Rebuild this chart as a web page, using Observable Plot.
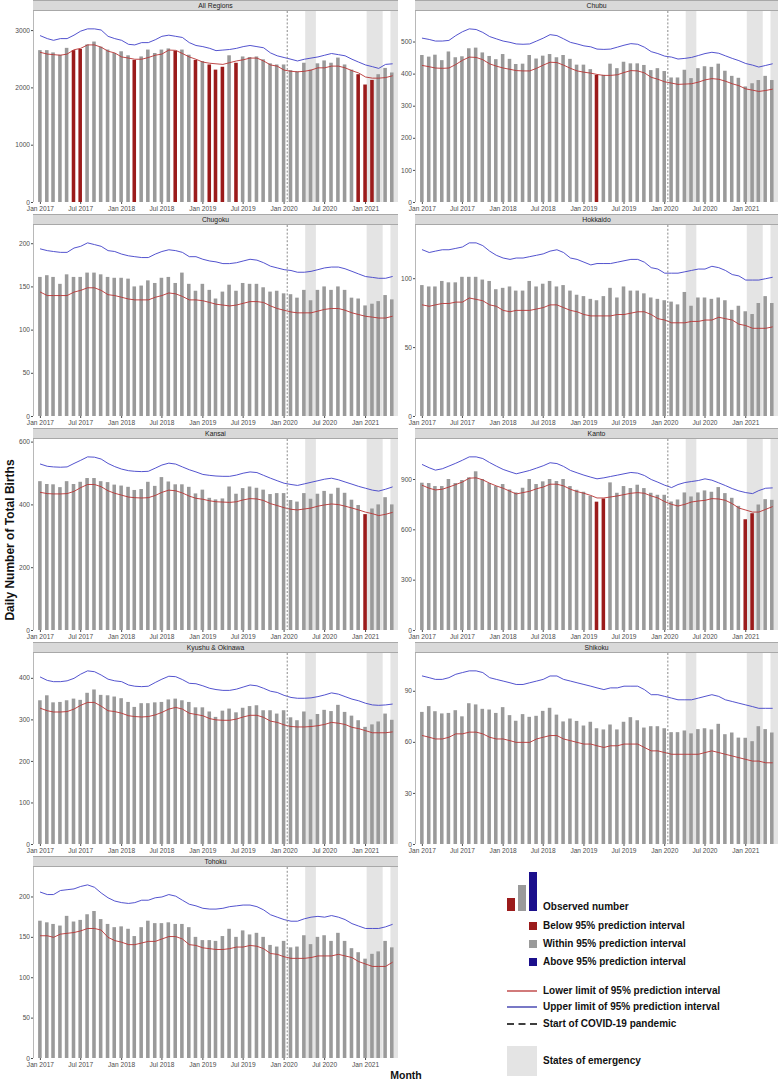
<!DOCTYPE html>
<html><head><meta charset="utf-8">
<script src="https://cdn.jsdelivr.net/npm/d3@7"></script>
<script src="https://cdn.jsdelivr.net/npm/@observablehq/plot@0.6"></script>
<style>
body{margin:0;background:#fff;font-family:"Liberation Sans",Arial,Helvetica,sans-serif;}
#root{position:relative;width:781px;height:1080px;overflow:hidden;background:#fff}
.abs{position:absolute}
.strip{position:absolute;background:#d9d9d9;border-top:0.8px solid #a8a8a8;border-bottom:0.8px solid #a8a8a8;box-sizing:border-box;font-size:6.8px;text-align:center;line-height:10px;color:#1a1a1a}
.axisline{position:absolute;width:0.7px;background:#b8b8b8}
.lg{position:absolute;font-size:10px;font-weight:bold;color:#111;line-height:12px;white-space:nowrap}
</style>
</head><body><div id="root"></div>
<script>
// ---------- data ----------
const monthStart = "2017-01-01", monthEnd = "2021-06-01";
const emergencyStart = ["2020-04-07", "2021-01-08", "2021-04-25"];
const emergencyEnd   = ["2020-05-25", "2021-03-21", "2021-06-20"];
const covidStart = "2020-01-15";
const xTickDates = ["2017-01-01","2017-07-01","2018-01-01","2018-07-01","2019-01-01","2019-07-01","2020-01-01","2020-07-01","2021-01-01"];
const regionNames = ["All Regions","Chubu","Chugoku","Hokkaido","Kansai","Kanto","Kyushu & Okinawa","Shikoku","Tohoku"];

const allObs = [2650,2650,2610,2570,2690,2650,2670,2750,2800,2710,2660,2600, 2630,2560,2480,2540,2660,2600,2660,2680,2640,2660,2570,2480, 2460,2400,2310,2360,2560,2430,2540,2530,2540,2490,2420,2400, 2400,2300,2280,2430,2310,2420,2470,2430,2520,2400,2310,2230, 2050,2130,2230,2340,2260];
const allLow = [2620,2590,2580,2570,2590,2665,2690,2750,2750,2710,2640,2610, 2540,2520,2500,2500,2530,2570,2590,2660,2655,2600,2540,2500, 2450,2430,2420,2410,2440,2470,2490,2520,2520,2470,2400,2380, 2310,2290,2280,2290,2310,2350,2350,2380,2380,2350,2300,2260, 2190,2170,2170,2180,2210];
const allUp  = [2910,2860,2830,2860,2860,2920,2990,3030,3030,3010,2900,2860, 2830,2760,2750,2790,2790,2840,2900,2920,2900,2880,2790,2740, 2720,2690,2650,2660,2670,2690,2720,2740,2720,2700,2610,2560, 2530,2500,2470,2500,2520,2540,2570,2600,2580,2560,2500,2450, 2400,2370,2340,2410,2420];
const allBelow = ["2017-06","2017-07","2018-03","2018-09","2018-12","2019-02","2019-03","2019-04","2019-06","2020-12","2021-01","2021-02"];
const allTicks = [0,1000,2000,3000];

const chubuObs = [458,453,459,442,469,451,454,479,481,466,455,445, 461,446,430,431,458,447,456,461,451,458,446,428, 428,414,396,396,431,417,437,432,432,427,411,417, 408,388,388,412,386,417,423,421,431,409,393,387, 360,370,380,393,380];
const chubuLow = [427,423,419,418,419,430,443,453,452,445,432,425, 419,415,411,410,410,418,428,437,436,428,418,410, 406,403,399,396,396,398,405,411,410,404,390,384, 376,372,368,369,370,375,382,386,384,378,370,364, 354,350,346,349,353];
const chubuUp  = [512,508,503,503,505,520,532,541,539,530,517,510, 503,499,494,493,494,503,512,523,520,510,499,494, 488,485,478,477,478,484,490,495,493,484,470,464, 456,453,447,449,452,458,464,468,465,457,449,442, 433,428,422,427,432];
const chubuBelow = ["2019-03"];
const chubuTicks = [0,100,200,300,400,500];

const chugokuObs = [161,163,161,153,164,161,161,166,166,164,161,160, 160,159,150,151,157,154,160,161,154,166,153,145, 153,146,136,144,152,145,154,153,153,149,144,145, 142,141,137,146,134,146,150,146,150,146,137,136, 128,130,133,140,135];
const chugokuLow = [144,140,140,140,140,144,146,149,149,146,141,140, 138,136,135,135,135,138,140,143,142,139,135,135, 134,132,130,129,128,129,131,133,133,132,128,125, 123,121,120,120,120,122,124,125,125,123,120,118, 116,115,114,114,116];
const chugokuUp  = [194,192,191,190,190,195,197,201,199,197,192,191, 188,186,185,184,184,188,191,193,192,190,185,185, 182,180,179,177,177,178,180,182,181,178,174,172, 170,169,167,167,168,170,172,173,173,171,168,165, 162,161,160,160,162];
const chugokuBelow = [];
const chugokuTicks = [0,50,100,150,200];

const hokkaidoObs = [95,94,94,98,97,97,101,101,101,99,98,92, 93,94,91,91,98,94,96,98,94,95,91,88, 87,85,84,87,93,86,94,91,91,89,86,85, 84,83,81,90,80,86,86,85,86,84,77,80, 76,74,82,87,82];
const hokkaidoLow = [81,80,81,82,82,83,83,86,85,84,81,80, 77,76,77,77,77,78,79,81,81,79,77,76, 74,73,73,73,73,74,74,75,76,76,74,71, 70,68,68,68,69,69,70,70,72,71,70,67, 66,64,64,64,65];
const hokkaidoUp  = [121,119,120,121,121,122,123,126,126,124,120,117, 115,114,115,115,116,117,118,120,121,119,115,114, 112,110,111,111,111,112,113,114,114,112,108,107, 104,104,104,105,106,107,107,109,108,106,103,102, 99,99,99,100,101];
const hokkaidoBelow = [];
const hokkaidoTicks = [0,50,100];

const kansaiObs = [474,465,464,455,474,465,472,484,484,474,471,463, 460,456,446,449,472,459,487,473,464,464,456,435, 447,421,416,419,457,434,452,457,453,447,433,436, 436,414,409,436,418,434,443,434,453,437,415,398, 369,387,400,423,400];
const kansaiLow = [440,436,435,435,436,443,455,465,465,458,445,437, 431,425,423,422,423,430,440,447,445,438,428,421, 418,413,410,409,408,410,416,420,419,414,404,398, 391,386,384,387,390,396,400,403,401,396,390,384, 377,372,366,370,376];
const kansaiUp  = [530,523,521,520,521,532,542,553,552,546,532,522, 514,509,507,506,507,517,527,533,530,521,512,505, 497,494,492,491,491,495,501,505,503,494,485,477, 469,465,462,467,472,477,482,485,480,473,466,459, 453,447,444,450,457];
const kansaiBelow = ["2021-01"];
const kansaiTicks = [0,200,400,600];

const kantoObs = [878,876,858,858,900,876,894,910,946,900,876,858, 870,838,820,848,900,870,886,900,888,900,858,836, 824,800,765,784,880,818,858,846,866,846,818,806, 806,766,778,820,796,820,832,824,852,816,788,740, 660,696,748,780,776];
const kantoLow = [865,848,838,842,855,870,885,908,910,898,878,862, 848,830,814,822,830,845,855,872,872,862,842,828, 818,805,790,790,796,802,810,818,822,818,802,790, 768,752,742,752,766,772,776,786,784,776,756,730, 718,706,706,722,738];
const kantoUp  = [989,970,956,964,980,997,1015,1035,1035,1025,1001,980, 960,946,934,944,954,968,982,1000,995,978,954,940, 926,914,904,910,918,926,934,942,938,924,900,884, 866,852,870,882,888,894,904,896,880,864,846,832, 822,816,834,848,850];
const kantoBelow = ["2019-03","2019-04","2021-01","2021-02"];
const kantoTicks = [0,300,600,900];

const kyushuObs = [346,358,341,342,346,350,347,364,372,359,358,355, 351,342,330,339,339,341,342,348,350,346,342,329, 329,319,306,321,326,317,328,332,334,322,322,314, 322,305,298,319,300,313,323,320,335,318,309,298, 282,288,295,314,299];
const kyushuLow = [328,322,319,319,320,326,335,342,342,333,322,320, 316,310,308,307,308,312,318,326,330,326,316,313, 310,303,300,299,299,302,307,311,311,306,297,294, 288,284,283,283,284,286,289,294,292,289,282,279, 274,269,269,269,271];
const kyushuUp  = [403,395,392,392,394,400,410,418,416,408,398,394, 392,384,381,380,381,390,398,405,404,397,388,387, 382,376,373,371,371,374,379,384,382,376,369,366, 359,354,352,352,353,356,360,365,362,356,350,346, 340,336,335,336,338];
const kyushuBelow = [];
const kyushuTicks = [0,100,200,300,400];

const shikokuObs = [77.6,81,78,76.7,77,78.6,75,82.7,82,79.4,79,77, 80.4,75.7,72.4,76.3,74.7,75.3,78.2,80,76,72,73.7,72.3, 69.6,71.8,68,67.3,70.2,67.3,71.8,74.5,72.7,68.4,69.2,69.2, 68,65.7,65.7,66.7,65,67.5,68,67.3,70.6,64.5,65.5,62.5, 62.4,60.4,69.2,67.5,65.5];
const shikokuLow = [64,63,62,62,63,65,65,66,66,65,63,62, 62,61,60,60,60,62,63,64,64,62,61,60, 59,59,58,57,58,58,59,59,59,57,55,55, 54,53,53,53,53,53,54,55,54,53,52,51, 50,49,49,48,48];
const shikokuUp  = [99,98,97,97,98,100,101,102,102,101,98,97, 96,95,94,94,95,96,97,99,99,97,96,95, 94,93,92,91,92,92,93,93,93,91,88,88, 87,86,85,85,85,86,87,88,87,85,84,83, 82,81,80,80,80];
const shikokuBelow = [];
const shikokuTicks = [0,30,60,90];

const tohokuObs = [170,168,166,164,176,169,171,178,182,172,166,162, 163,160,151,162,170,167,167,168,166,166,162,150, 146,146,145,151,160,150,158,153,155,150,140,138, 145,137,138,152,141,150,152,145,155,145,136,131, 123,129,132,145,137];
const tohokuLow = [152,152,150,154,155,156,158,161,161,159,150,146, 144,141,141,143,145,145,148,151,151,148,141,140, 137,136,135,135,136,138,138,140,139,136,130,129, 126,124,124,124,125,127,127,127,129,127,125,120, 117,114,114,114,119];
const tohokuUp  = [206,203,203,208,209,210,213,215,212,205,199,195, 193,192,193,196,196,199,200,203,201,196,191,189, 186,185,185,186,188,189,190,190,188,184,178,175, 172,170,170,173,175,176,175,177,175,172,167,164, 161,161,161,163,166];
const tohokuBelow = [];
const tohokuTicks = [0,50,100,150,200];

// ---------- build ----------
const parse = s => new Date(s + "T00:00:00Z");
const months = d3.utcMonth.range(parse(monthStart), parse(monthEnd));
const ym = d3.utcFormat("%Y-%m");
const emergencies = emergencyStart.map((s, i) => ({start: parse(s), end: parse(emergencyEnd[i])}));
const xTicks = xTickDates.map(parse);
const xDomain = [parse("2016-12-01"), parse("2021-05-29")];

const series = [
  [allObs, allLow, allUp, allBelow, allTicks],
  [chubuObs, chubuLow, chubuUp, chubuBelow, chubuTicks],
  [chugokuObs, chugokuLow, chugokuUp, chugokuBelow, chugokuTicks],
  [hokkaidoObs, hokkaidoLow, hokkaidoUp, hokkaidoBelow, hokkaidoTicks],
  [kansaiObs, kansaiLow, kansaiUp, kansaiBelow, kansaiTicks],
  [kantoObs, kantoLow, kantoUp, kantoBelow, kantoTicks],
  [kyushuObs, kyushuLow, kyushuUp, kyushuBelow, kyushuTicks],
  [shikokuObs, shikokuLow, shikokuUp, shikokuBelow, shikokuTicks],
  [tohokuObs, tohokuLow, tohokuUp, tohokuBelow, tohokuTicks]
];

const root = document.getElementById("root");
const rowTops = [0, 214, 428, 642, 856];
const stripH = 11;

regionNames.forEach((name, k) => {
  const [obs, low, up, below, ticks] = series[k];
  const isLeft = k % 2 === 0;
  const top = rowTops[Math.floor(k / 2)];
  const rows = months.map((m, i) => ({
    date: m, obs: obs[i], low: low[i], up: up[i],
    status: below.includes(ym(m)) ? "below" : (obs[i] > up[i] ? "above" : "within")
  }));
  const yMax = d3.max([...up, ...obs]) * 1.1;
  const ml = isLeft ? 33 : 35, mr = isLeft ? 2 : 3, W = isLeft ? 400 : 401;
  const svgLeft = isLeft ? 0 : 380;
  const plot = Plot.plot({
    width: W, height: 205,
    marginLeft: ml, marginRight: mr, marginTop: 0, marginBottom: 14,
    style: {fontFamily: "Liberation Sans, Arial, sans-serif", fontSize: "6.6px", color: "#4d4d4d", background: "transparent", overflow: "visible"},
    x: {type: "utc", domain: xDomain, clamp: true, ticks: xTicks, tickFormat: d3.utcFormat("%b %Y"), tickSize: 2, tickPadding: 1.5, label: null},
    y: {domain: [0, yMax], ticks: ticks, tickFormat: d => String(d), tickSize: 2, tickPadding: 1.5, label: null},
    color: {domain: ["below", "within", "above"], range: ["#9b1b1b", "#9a9a9a", "#1b0f8c"]},
    marks: [
      Plot.rect(emergencies, {x1: "start", x2: "end", fill: "#e4e4e4"}),
      Plot.rectY(rows, {x1: d => d3.utcDay.offset(d.date, -8), x2: d => d3.utcDay.offset(d.date, 8), y: "obs", fill: "status"}),
      Plot.line(rows, {x: "date", y: "low", stroke: "#b83333", strokeWidth: 0.9}),
      Plot.line(rows, {x: "date", y: "up", stroke: "#3f3fc8", strokeWidth: 0.9}),
      Plot.ruleX([parse(covidStart)], {stroke: "#8a8a8a", strokeWidth: 1, strokeDasharray: "2,1.8"})
    ]
  });
  plot.style.position = "absolute";
  plot.style.left = svgLeft + "px";
  plot.style.top = (top + stripH) + "px";
  root.appendChild(plot);

  const strip = document.createElement("div");
  strip.className = "strip";
  strip.style.left = (svgLeft + ml) + "px";
  strip.style.top = top + "px";
  strip.style.width = (W - ml - mr) + "px";
  strip.style.height = stripH + "px";
  strip.textContent = name;
  root.appendChild(strip);

  const ax = document.createElement("div");
  ax.className = "axisline";
  ax.style.left = (svgLeft + ml - 0.35) + "px";
  ax.style.top = (top + stripH) + "px";
  ax.style.height = "191px";
  root.appendChild(ax);
});

// y-axis title
const yt = document.createElement("div");
yt.style.cssText = "position:absolute;left:10px;top:540px;transform:translate(-50%,-50%) rotate(-90deg);font-size:12px;font-weight:bold;white-space:nowrap;color:#111";
yt.textContent = "Daily Number of Total Births";
root.appendChild(yt);

// x-axis title
const xt = document.createElement("div");
xt.style.cssText = "position:absolute;left:406px;top:1075px;transform:translate(-50%,-50%);font-size:10.5px;font-weight:bold;white-space:nowrap;color:#111";
xt.textContent = "Month";
root.appendChild(xt);

// legend
function box(l, t, w, h, c) {
  const d = document.createElement("div");
  d.style.cssText = `position:absolute;left:${l}px;top:${t}px;width:${w}px;height:${h}px;background:${c}`;
  root.appendChild(d);
}
function label(l, cy, txt) {
  const d = document.createElement("div");
  d.className = "lg";
  d.style.left = l + "px";
  d.style.top = (cy - 6) + "px";
  d.textContent = txt;
  root.appendChild(d);
}
box(507, 898, 8, 13, "#9b1b1b");
box(518, 885, 8, 26, "#9a9a9a");
box(528.5, 872, 8.5, 39, "#1b0f8c");
label(543, 907, "Observed number");
box(528.5, 922, 8, 8, "#9b1b1b");
box(528.5, 940, 8, 8, "#9a9a9a");
box(528.5, 958, 8, 8, "#1b0f8c");
label(543, 926, "Below 95% prediction interval");
label(543, 944, "Within 95% prediction interval");
label(543, 962, "Above 95% prediction interval");
const ls = d3.create("svg").attr("width", 40).attr("height", 50)
  .style("position", "absolute").style("left", "505px").style("top", "983px");
ls.append("line").attr("x1", 2).attr("x2", 32).attr("y1", 8).attr("y2", 8).attr("stroke", "#b22222").attr("stroke-width", 1.2);
ls.append("line").attr("x1", 2).attr("x2", 32).attr("y1", 24).attr("y2", 24).attr("stroke", "#1f1fa0").attr("stroke-width", 1.2);
ls.append("line").attr("x1", 2).attr("x2", 32).attr("y1", 41).attr("y2", 41).attr("stroke", "#000").attr("stroke-width", 1.5).attr("stroke-dasharray", "7,4.5");
root.appendChild(ls.node());
label(543, 991, "Lower limit of 95% prediction interval");
label(543, 1007, "Upper limit of 95% prediction interval");
label(543, 1024, "Start of COVID-19 pandemic");
box(507, 1046, 30, 30, "#e4e4e4");
label(543, 1061, "States of emergency");
</script>
</body></html>
